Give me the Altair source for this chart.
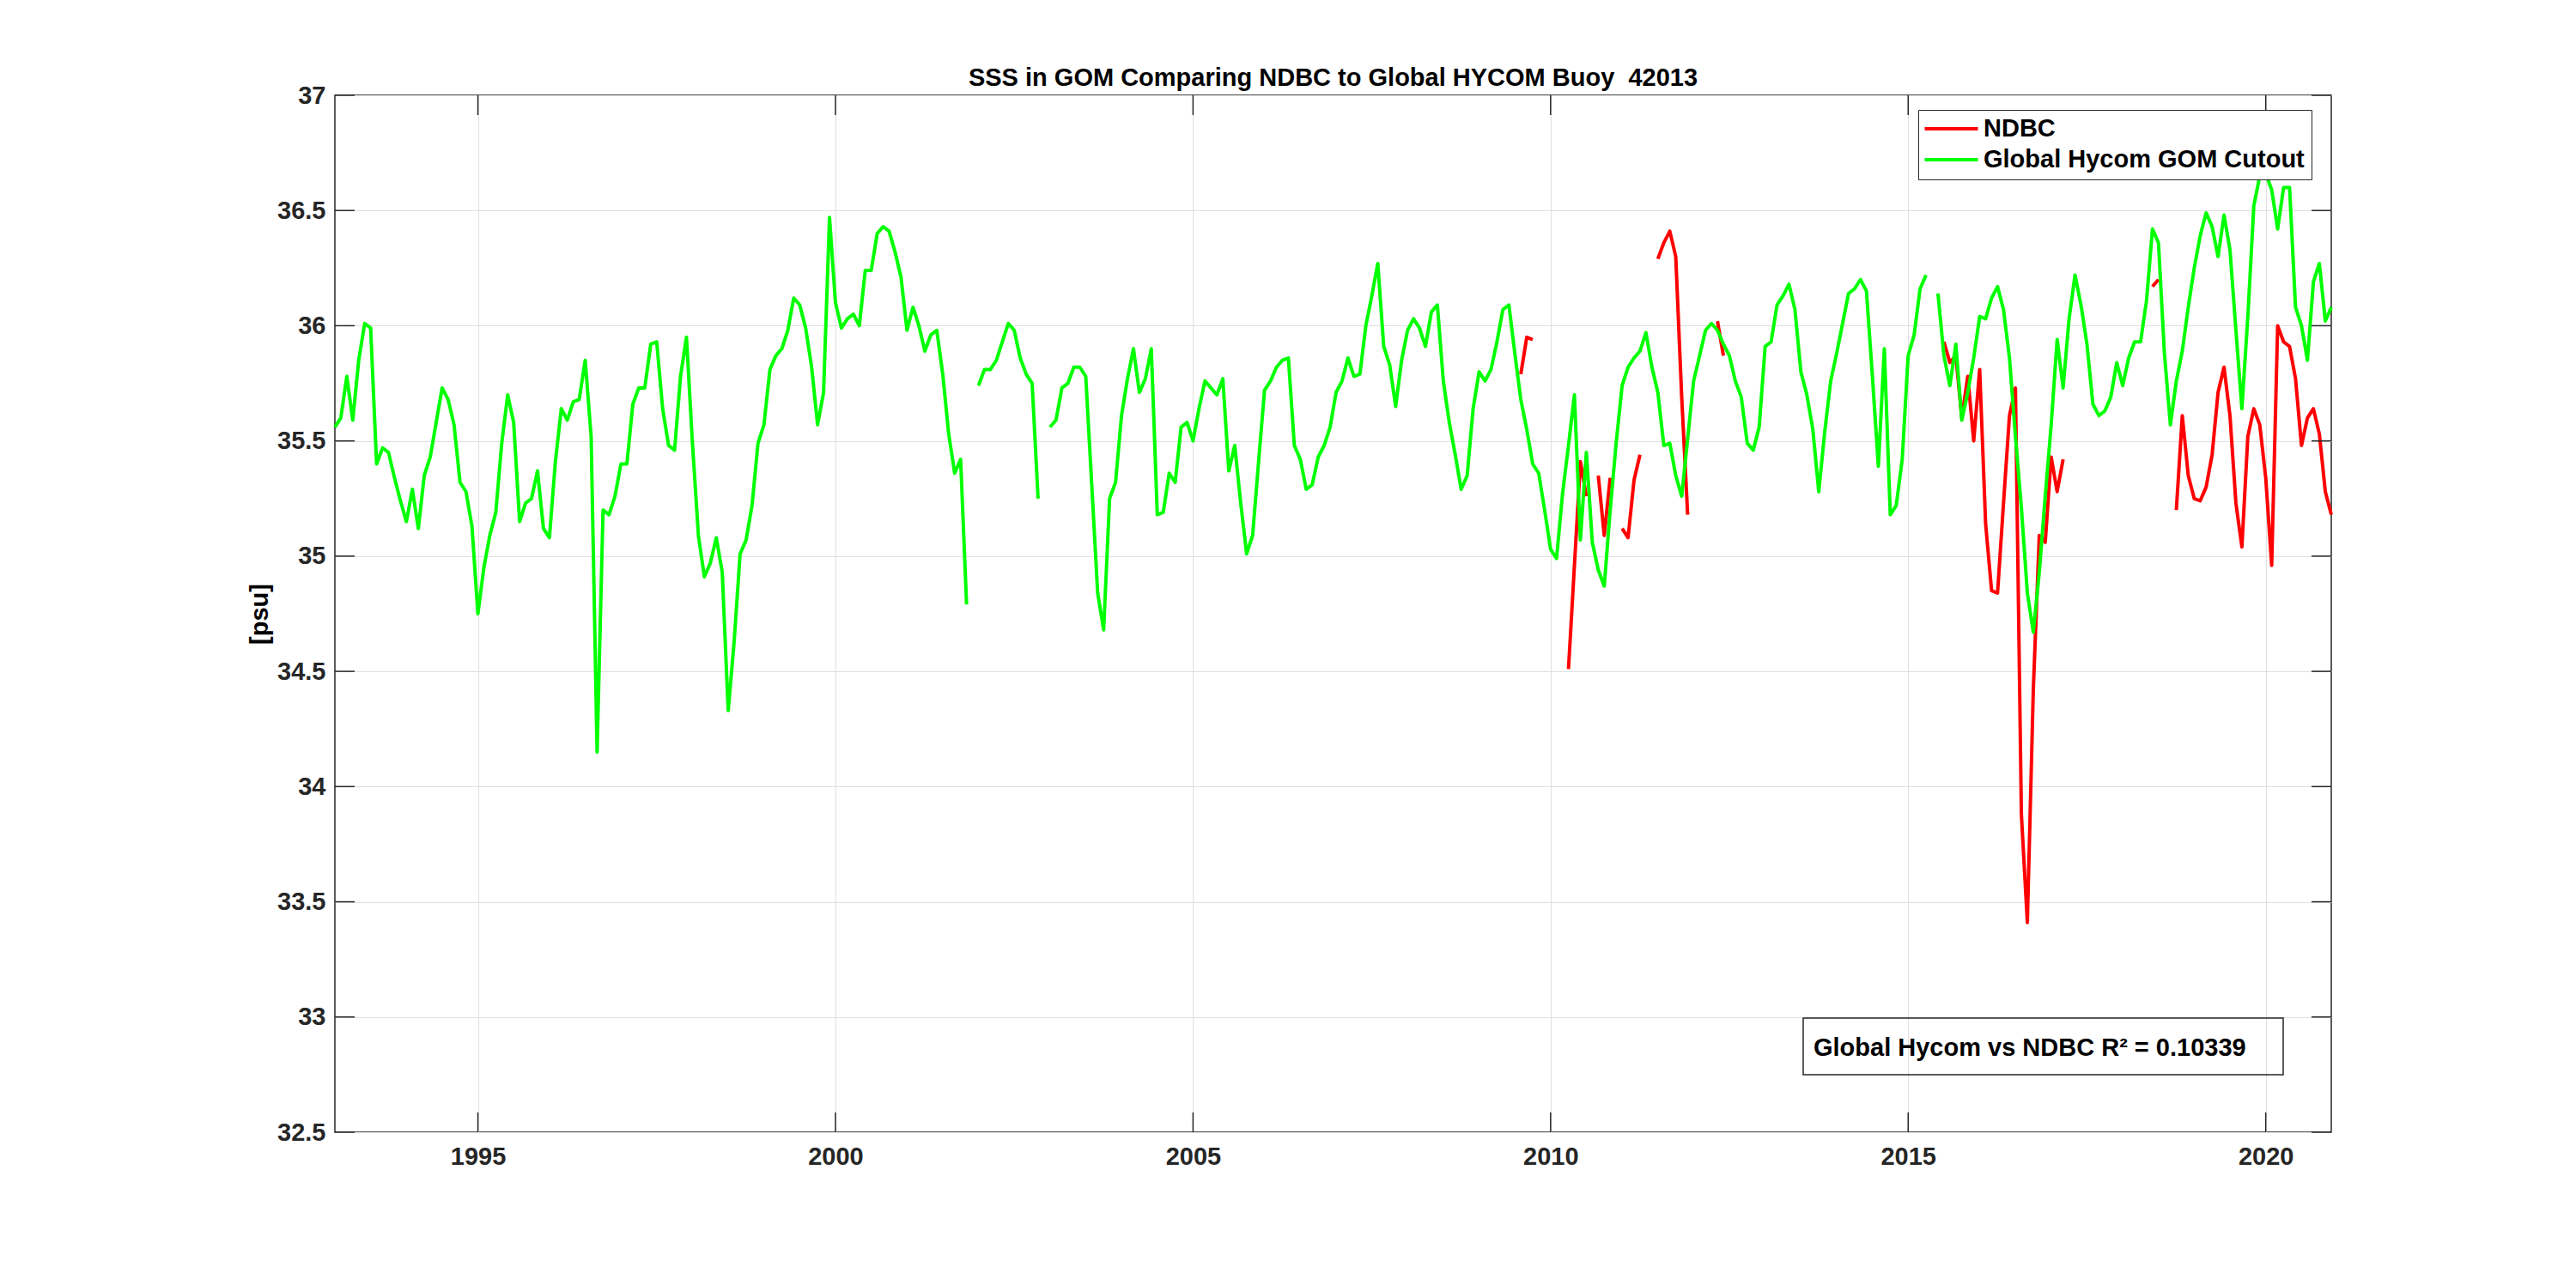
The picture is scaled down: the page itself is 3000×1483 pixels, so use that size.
import altair as alt
import pandas as pd

START_YEAR = 1993  # first monthly sample (Jan 1993)

# Global HYCOM GOM cutout, monthly, Jan 1993 .. Dec 2020 (None = gap)
GREEN = [
    35.56, 35.60, 35.78, 35.59, 35.85, 36.01, 35.99, 35.40, 35.47, 35.45, 35.34, 35.24,  # 1993
    35.15, 35.29, 35.12, 35.35, 35.43, 35.58, 35.73, 35.68, 35.57, 35.32, 35.28, 35.13,  # 1994
    34.75, 34.95, 35.09, 35.19, 35.49, 35.70, 35.58, 35.15, 35.23, 35.25, 35.37, 35.12,  # 1995
    35.08, 35.41, 35.64, 35.59, 35.67, 35.68, 35.85, 35.52, 34.15, 35.20, 35.18, 35.26,  # 1996
    35.40, 35.40, 35.66, 35.73, 35.73, 35.92, 35.93, 35.64, 35.48, 35.46, 35.78, 35.95,  # 1997
    35.49, 35.09, 34.91, 34.97, 35.08, 34.93, 34.33, 34.63, 35.01, 35.07, 35.22, 35.49,  # 1998
    35.57, 35.81, 35.87, 35.90, 35.98, 36.12, 36.09, 35.99, 35.82, 35.57, 35.71, 36.47,  # 1999
    36.10, 35.99, 36.03, 36.05, 36.00, 36.24, 36.24, 36.40, 36.43, 36.41, 36.32, 36.21,  # 2000
    35.98, 36.08, 36.00, 35.89, 35.96, 35.98, 35.79, 35.53, 35.36, 35.42, 34.79, None,   # 2001
    35.74, 35.81, 35.81, 35.85, 35.93, 36.01, 35.98, 35.86, 35.79, 35.75, 35.25, None,   # 2002
    35.56, 35.59, 35.73, 35.75, 35.82, 35.82, 35.78, 35.31, 34.84, 34.68, 35.25, 35.32,  # 2003
    35.61, 35.77, 35.90, 35.71, 35.77, 35.90, 35.18, 35.19, 35.36, 35.32, 35.56, 35.58,  # 2004
    35.50, 35.64, 35.76, 35.73, 35.70, 35.77, 35.37, 35.48, 35.23, 35.01, 35.09, 35.41,  # 2005
    35.72, 35.76, 35.82, 35.85, 35.86, 35.48, 35.42, 35.29, 35.31, 35.43, 35.48, 35.56,  # 2006
    35.71, 35.76, 35.86, 35.78, 35.79, 36.00, 36.13, 36.27, 35.91, 35.83, 35.65, 35.85,  # 2007
    35.98, 36.03, 35.99, 35.91, 36.06, 36.09, 35.76, 35.58, 35.44, 35.29, 35.35, 35.64,  # 2008
    35.80, 35.76, 35.81, 35.93, 36.07, 36.09, 35.88, 35.68, 35.55, 35.40, 35.36, 35.20,  # 2009
    35.03, 34.99, 35.27, 35.48, 35.70, 35.07, 35.45, 35.06, 34.94, 34.87, 35.20, 35.49,  # 2010
    35.74, 35.82, 35.86, 35.89, 35.97, 35.82, 35.71, 35.48, 35.49, 35.35, 35.26, 35.51,  # 2011
    35.76, 35.87, 35.98, 36.01, 35.98, 35.92, 35.87, 35.76, 35.69, 35.49, 35.46, 35.56,  # 2012
    35.91, 35.93, 36.09, 36.13, 36.18, 36.07, 35.80, 35.70, 35.55, 35.28, 35.54, 35.76,  # 2013
    35.88, 36.01, 36.14, 36.16, 36.20, 36.15, 35.78, 35.39, 35.90, 35.18, 35.22, 35.42,  # 2014
    35.87, 35.96, 36.16, 36.22, None,  36.14, 35.87, 35.74, 35.92, 35.59, 35.71, 35.86,  # 2015
    36.04, 36.03, 36.12, 36.17, 36.07, 35.86, 35.52, 35.21, 34.84, 34.67, 34.93, 35.26,  # 2016
    35.57, 35.94, 35.73, 36.03, 36.22, 36.09, 35.92, 35.66, 35.61, 35.63, 35.69, 35.84,  # 2017
    35.74, 35.86, 35.93, 35.93, 36.11, 36.42, 36.36, 35.88, 35.57, 35.76, 35.89, 36.08,  # 2018
    36.25, 36.39, 36.49, 36.43, 36.30, 36.48, 36.33, 35.98, 35.64, 36.04, 36.52, 36.65,  # 2019
    36.66, 36.59, 36.42, 36.60, 36.60, 36.08, 36.00, 35.85, 36.19, 36.27, 36.02, 36.08,  # 2020
]

# NDBC buoy 42013, monthly, same time base (None = no data)
RED = [None] * 192 + [
    None,  None,  None,  None,  None,  None,  None,  35.79, 35.95, 35.94, None,  None,   # 2009
    None,  None,  None,  34.51, 34.96, 35.41, 35.26, None,  35.35, 35.09, 35.34, None,   # 2010
    35.12, 35.08, 35.33, 35.44, None,  None,  36.29, 36.36, 36.41, 36.30, 35.69, 35.18,  # 2011
    None,  None,  None,  None,  36.02, 35.87, None,  None,  None,  None,  None,  None,   # 2012
    None,  None,  None,  None,  None,  None,  None,  None,  None,  None,  None,  None,   # 2013
    None,  None,  None,  None,  None,  None,  None,  None,  None,  None,  None,  None,   # 2014
    None,  None,  None,  None,  None,  None,  35.93, 35.84, 35.87, 35.60, 35.78, 35.50,  # 2015
    35.81, 35.14, 34.85, 34.84, 35.23, 35.61, 35.73, 33.88, 33.41, 34.42, 35.09, 35.06,  # 2016
    35.43, 35.28, 35.42, None,  None,  None,  None,  None,  None,  None,  None,  None,   # 2017
    None,  None,  None,  None,  None,  36.17, 36.20, None,  None,  35.20, 35.61, 35.35,  # 2018
    35.25, 35.24, 35.30, 35.44, 35.71, 35.82, 35.61, 35.23, 35.04, 35.52, 35.64, 35.57,  # 2019
    35.34, 34.96, 36.00, 35.93, 35.91, 35.77, 35.48, 35.60, 35.64, 35.53, 35.28, 35.18,  # 2020
]

SERIES = ["NDBC", "Global Hycom GOM Cutout"]
COLORS = ["#ff0000", "#00ff00"]
X_TICKS = [1995, 2000, 2005, 2010, 2015, 2020]
Y_TICKS = [32.5, 33, 33.5, 34, 34.5, 35, 35.5, 36, 36.5, 37]
TITLE = "SSS in GOM Comparing NDBC to Global HYCOM Buoy \u00a042013"
Y_TITLE = "[psu]"
R2_TEXT = ["Global Hycom vs NDBC R\u00b2 = 0.10339"]

FONT = "Liberation Sans"
FS = 29
AX = "#262626"
W, H = 2325, 1208
TICK = 23


def to_frame(values, name):
    rows, seg, prev = [], 0, None
    for i, v in enumerate(values):
        if v is None:
            prev = None
            continue
        if prev is None:
            seg += 1
        rows.append({"t": START_YEAR + i / 12, "v": v, "series": name, "seg": f"{name}-{seg}"})
        prev = v
    return pd.DataFrame(rows)


red_df = to_frame(RED, SERIES[0])
green_df = to_frame(GREEN, SERIES[1])

xscale = alt.Scale(domain=[START_YEAR, START_YEAR + (len(GREEN) - 1) / 12], nice=False, zero=False)
yscale = alt.Scale(domain=[Y_TICKS[0], Y_TICKS[-1]], nice=False, zero=False)

legend = alt.Legend(
    title=None, orient="none", legendX=1844, legendY=17,
    symbolType="M-2.5,0L2.5,0", symbolSize=615, symbolStrokeWidth=4,
    symbolOffset=16.5, labelOffset=23, rowPadding=6, padding=7.5,
    labelFont=FONT, labelFontSize=FS, labelFontWeight="bold", labelColor="black",
    labelLimit=0, fillColor="white", strokeColor=AX,
)
color = alt.Color("series:N", scale=alt.Scale(domain=SERIES, range=COLORS), legend=legend)

x_axis = alt.Axis(
    values=X_TICKS, format="d", title=None, grid=True, gridColor="#dfdfdf", gridWidth=1,
    ticks=False, domain=False, labelFont=FONT, labelFontSize=FS, labelFontWeight="bold",
    labelColor=AX, labelPadding=14,
)
y_axis = alt.Axis(
    values=Y_TICKS, format=".1~f", title=Y_TITLE, grid=True, gridColor="#dfdfdf", gridWidth=1,
    ticks=False, domain=False, labelFont=FONT, labelFontSize=FS, labelFontWeight="bold",
    labelColor=AX, labelPadding=11,
    titleFont=FONT, titleFontSize=FS, titleFontWeight="bold", titleColor="black",
    titleX=-88, titleY=H / 2, titleAngle=270, titleAlign="center", titleBaseline="middle",
)

line_kw = dict(strokeWidth=4, strokeJoin="round", strokeCap="butt")

red = alt.Chart(red_df).mark_line(**line_kw).encode(
    x=alt.X("t:Q", scale=xscale, axis=x_axis),
    y=alt.Y("v:Q", scale=yscale, axis=y_axis),
    color=color,
    detail="seg:N",
)
green = alt.Chart(green_df).mark_line(**line_kw).encode(
    x=alt.X("t:Q", scale=xscale, axis=x_axis),
    y=alt.Y("v:Q", scale=yscale, axis=y_axis),
    color=color,
    detail="seg:N",
)

yt = pd.DataFrame({"y": Y_TICKS})
xt = pd.DataFrame({"x": X_TICKS})
tick_kw = dict(color=AX, strokeWidth=1.5)
left_ticks = alt.Chart(yt).mark_rule(**tick_kw).encode(
    y=alt.Y("y:Q", scale=yscale, axis=y_axis), x=alt.value(0), x2=alt.value(TICK))
right_ticks = alt.Chart(yt).mark_rule(**tick_kw).encode(
    y=alt.Y("y:Q", scale=yscale, axis=y_axis), x=alt.value(W - TICK), x2=alt.value(W))
bottom_ticks = alt.Chart(xt).mark_rule(**tick_kw).encode(
    x=alt.X("x:Q", scale=xscale, axis=x_axis), y=alt.value(H - TICK), y2=alt.value(H))
top_ticks = alt.Chart(xt).mark_rule(**tick_kw).encode(
    x=alt.X("x:Q", scale=xscale, axis=x_axis), y=alt.value(0), y2=alt.value(TICK))

ann_df = pd.DataFrame({"label": R2_TEXT})
ann_box = alt.Chart(ann_df).mark_rect(fill=None, stroke=AX, strokeWidth=1.5).encode(
    x=alt.value(1710), x2=alt.value(2269), y=alt.value(1075), y2=alt.value(1141))
ann_text = alt.Chart(ann_df).mark_text(
    align="left", baseline="alphabetic", font=FONT, fontSize=FS, fontWeight="bold", color="black"
).encode(x=alt.value(1722), y=alt.value(1119), text="label:N")

chart = alt.layer(
    red, green, left_ticks, right_ticks, bottom_ticks, top_ticks, ann_box, ann_text
).properties(
    width=W, height=H,
    title=alt.TitleParams(TITLE, font=FONT, fontSize=FS, fontWeight="bold", color="black",
                          anchor="middle", offset=-32, baseline="alphabetic", frame="group"),
    autosize=alt.AutoSizeParams(type="none"),
    padding={"left": 382, "top": 103, "right": 277, "bottom": 140},
    background="white",
).configure_view(stroke=AX, strokeWidth=1.5)

chart.save("out.html", embed_options={"renderer": "svg", "actions": False})
